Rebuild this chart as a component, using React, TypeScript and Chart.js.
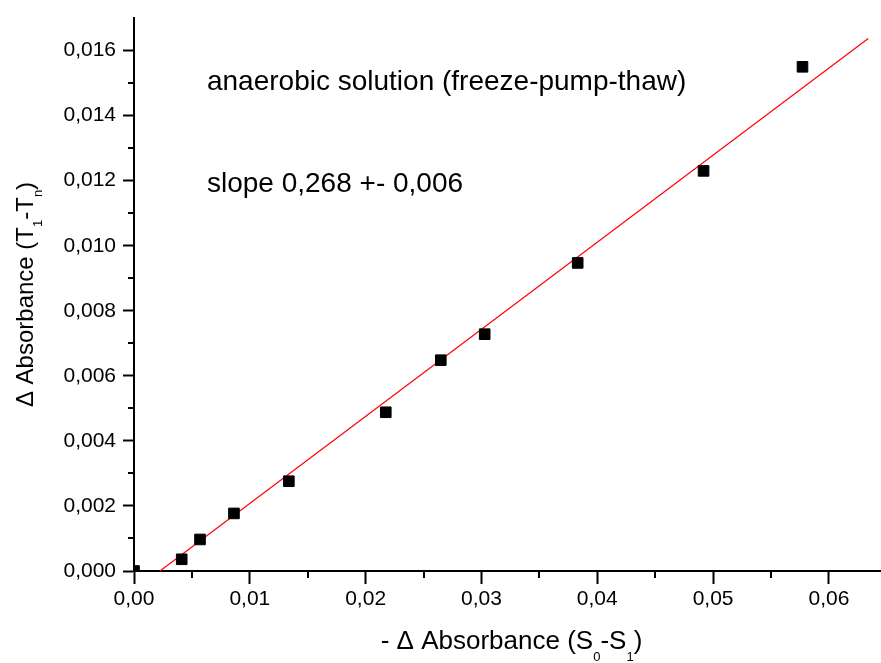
import React, { useEffect, useRef } from 'react';
import { Chart, registerables } from 'chart.js';

Chart.register(...registerables);

// ---- data ----
const dataX = [0, 0.00412, 0.0057, 0.00863, 0.01337, 0.02174, 0.02649, 0.03028, 0.03831, 0.04918, 0.05772];
const dataY = [0, 0.00036, 0.00097, 0.00177, 0.00276, 0.00488, 0.00648, 0.00728, 0.00947, 0.0123, 0.0155];
const fitX = [0.00224, 0.0634];
const fitY = [0, 0.01637];

const xRange = [0, 0.0645];
const yRange = [0, 0.017];
const xTicks = [0, 0.01, 0.02, 0.03, 0.04, 0.05, 0.06];
const xMinorTicks = [0.005, 0.015, 0.025, 0.035, 0.045, 0.055];
const yTicks = [0, 0.002, 0.004, 0.006, 0.008, 0.01, 0.012, 0.014, 0.016];
const yMinorTicks = [0.001, 0.003, 0.005, 0.007, 0.009, 0.011, 0.013, 0.015];

const noteLines = ['anaerobic solution (freeze-pump-thaw)', 'slope 0,268 +- 0,006'];
const noteX = [0.0063, 0.0063];
const noteY = [0.01479, 0.01165];

const xTitleParts: [string, boolean][] = [
  ['- \u0394 Absorbance (S', false],
  ['0', true],
  ['-S', false],
  ['1', true],
  [')', false],
];
const yTitleParts: [string, boolean][] = [
  ['\u0394 Absorbance (T', false],
  ['1', true],
  ['-T', false],
  ['n', true],
  [')', false],
];

const FAMILY = '"Liberation Sans", Arial, Helvetica, sans-serif';
const SUB_FONT = `13px ${FAMILY}`;

function drawRich(ctx: CanvasRenderingContext2D, parts: [string, boolean][], center: number, subOffset: number, mainFont: string) {
  let total = 0;
  const widths = parts.map(([t, sub]) => {
    ctx.font = sub ? SUB_FONT : mainFont;
    const w = ctx.measureText(t).width;
    total += w;
    return w;
  });
  let x = center - total / 2;
  parts.forEach(([t, sub], i) => {
    ctx.font = sub ? SUB_FONT : mainFont;
    ctx.fillText(t, x, sub ? subOffset : 0);
    x += widths[i];
  });
}

const overlay = {
  id: 'overlay',
  afterDraw(chart: any) {
    const ctx: CanvasRenderingContext2D = chart.ctx;
    const xs = chart.scales.x;
    const ys = chart.scales.y;
    const { left, right, top, bottom } = chart.chartArea;
    ctx.save();
    ctx.strokeStyle = '#000';
    ctx.lineWidth = 2;
    xMinorTicks.forEach((v) => {
      const px = Math.round(xs.getPixelForValue(v));
      ctx.beginPath();
      ctx.moveTo(px, bottom);
      ctx.lineTo(px, bottom + 7);
      ctx.stroke();
    });
    yMinorTicks.forEach((v) => {
      const py = Math.round(ys.getPixelForValue(v));
      ctx.beginPath();
      ctx.moveTo(left, py);
      ctx.lineTo(left - 6, py);
      ctx.stroke();
    });

    ctx.fillStyle = '#000';
    ctx.textAlign = 'left';
    ctx.textBaseline = 'alphabetic';
    ctx.font = `28px ${FAMILY}`;
    noteLines.forEach((t, i) => {
      ctx.fillText(t, xs.getPixelForValue(noteX[i]), ys.getPixelForValue(noteY[i]));
    });

    // x title
    ctx.save();
    ctx.translate(0, 649);
    drawRich(ctx, xTitleParts, (left + right) / 2 + 4, 12, `26px ${FAMILY}`);
    ctx.restore();

    // y title
    ctx.save();
    ctx.translate(33, (top + bottom) / 2);
    ctx.rotate(-Math.PI / 2);
    drawRich(ctx, yTitleParts, 0, 9, `24px ${FAMILY}`);
    ctx.restore();

    ctx.restore();
  },
};

const fmt = (digits: number) => (v: number | string) => Number(v).toFixed(digits).replace('.', ',');

export default function App() {
  const ref = useRef<HTMLCanvasElement>(null);
  useEffect(() => {
    if (!ref.current) return;
    const chart = new Chart(ref.current, {
      type: 'scatter',
      data: {
        datasets: [
          {
            type: 'scatter',
            data: dataX.map((x, i) => ({ x, y: dataY[i] })),
            pointStyle: 'rect',
            pointRadius: 7.5,
            pointBackgroundColor: '#000',
            pointBorderColor: '#000',
            pointBorderWidth: 1,
            clip: 0,
            order: 0,
          },
          {
            type: 'line',
            data: fitX.map((x, i) => ({ x, y: fitY[i] })),
            borderColor: '#ff0000',
            borderWidth: 1.2,
            pointRadius: 0,
            fill: false,
            order: 1,
          },
        ],
      },
      options: {
        animation: false,
        responsive: false,
        events: [],
        layout: { autoPadding: false, padding: { top: 18, right: 0, left: 0, bottom: 0 } },
        plugins: { legend: { display: false }, tooltip: { enabled: false }, title: { display: false } },
        scales: {
          x: {
            type: 'linear',
            min: xRange[0],
            max: xRange[1],
            afterBuildTicks: (s: any) => { s.ticks = xTicks.map((value) => ({ value })); },
            afterFit: (s: any) => { s.height = 92; s.paddingLeft = 0; s.paddingRight = 0; },
            ticks: { callback: fmt(2), color: '#000', padding: 3, font: { family: FAMILY, size: 21 }, maxRotation: 0, autoSkip: false },
            grid: { drawOnChartArea: false, drawTicks: true, tickLength: 13, tickWidth: 2, tickColor: '#000' },
            border: { display: true, color: '#000', width: 2 },
          },
          y: {
            type: 'linear',
            min: yRange[0],
            max: yRange[1],
            afterBuildTicks: (s: any) => { s.ticks = yTicks.map((value) => ({ value })); },
            afterFit: (s: any) => { s.width = 134; s.paddingTop = 0; s.paddingBottom = 0; },
            ticks: { callback: fmt(3), color: '#000', padding: 7, font: { family: FAMILY, size: 21 }, autoSkip: false },
            grid: { drawOnChartArea: false, drawTicks: true, tickLength: 11, tickWidth: 2, tickColor: '#000' },
            border: { display: true, color: '#000', width: 2 },
          },
        },
      },
      plugins: [overlay],
    });
    return () => chart.destroy();
  }, []);
  return (
    <div style={{ position: 'fixed', left: 0, top: 0, width: 881, height: 663, background: '#fff' }}>
      <canvas ref={ref} width={881} height={663} />
    </div>
  );
}
